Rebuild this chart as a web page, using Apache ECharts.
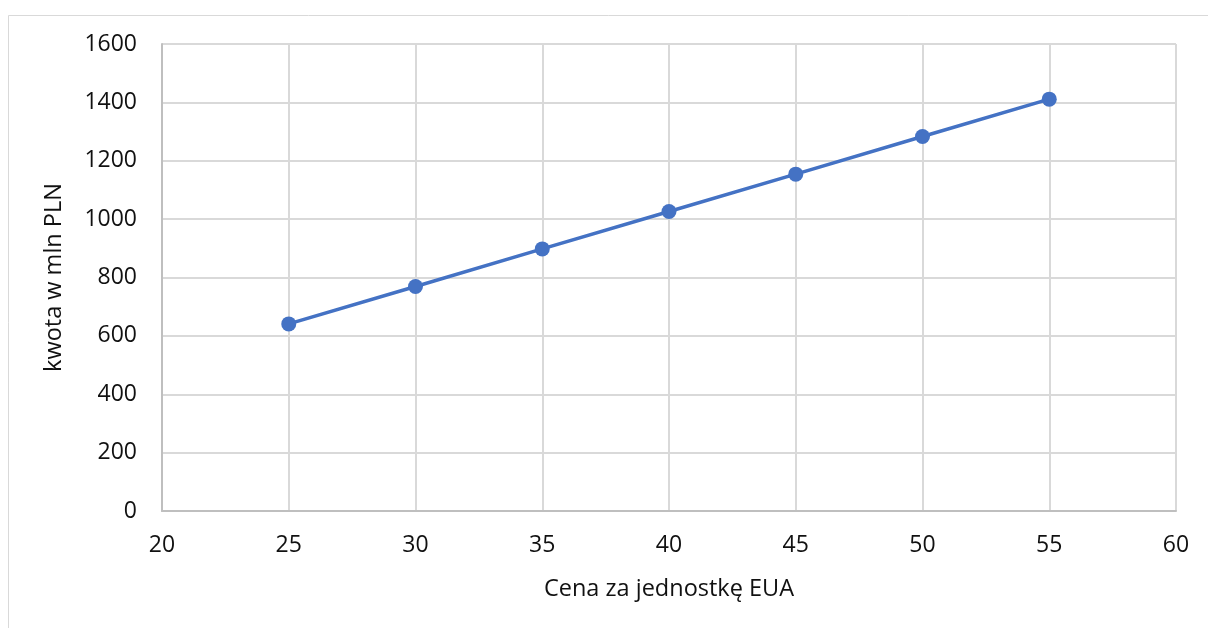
<!DOCTYPE html>
<html>
<head>
<meta charset="utf-8">
<script src="https://cdn.jsdelivr.net/npm/echarts@6/dist/echarts.min.js"></script>
<style>
  html, body { margin: 0; padding: 0; background: #ffffff; }
  #chart { width: 1208px; height: 628px; }
</style>
</head>
<body>
<div id="chart"></div>
<script>
// Cena za jednostkę EUA (x) i odpowiadająca kwota w mln PLN (y)
const prices = [25, 30, 35, 40, 45, 50, 55];
const amounts = [641, 769, 898, 1026, 1154, 1283, 1411];

const FONT = '"Open Sans", "Liberation Sans", sans-serif';

const chart = echarts.init(document.getElementById('chart'), null, { renderer: 'canvas' });

chart.setOption({
  backgroundColor: '#ffffff',
  animation: false,
  graphic: [{
    type: 'rect',
    shape: { x: 8.5, y: 15.5, width: 1230, height: 640 },
    style: { fill: 'none', stroke: '#d9d9d9', lineWidth: 1 },
    silent: true
  }],
  grid: { left: 162, right: 32, top: 44, bottom: 117, containLabel: false },
  xAxis: {
    type: 'value',
    min: 20, max: 60, interval: 5,
    name: 'Cena za jednostkę EUA',
    nameLocation: 'middle',
    nameGap: 66,
    nameTextStyle: { fontFamily: FONT, fontSize: 23.5, color: '#111' },
    axisLine: { show: true, lineStyle: { color: '#bfbfbf', width: 2 } },
    axisTick: { show: false },
    axisLabel: { fontFamily: FONT, fontSize: 23, color: '#111', margin: 23 },
    splitLine: { show: true, lineStyle: { color: '#d9d9d9', width: 2 } }
  },
  yAxis: {
    type: 'value',
    min: 0, max: 1600, interval: 200,
    name: 'kwota w mln PLN',
    nameLocation: 'middle',
    nameGap: 96,
    nameRotate: 90,
    nameTextStyle: { fontFamily: FONT, fontSize: 23.5, color: '#111' },
    axisLine: { show: true, lineStyle: { color: '#bfbfbf', width: 2 } },
    axisTick: { show: false },
    axisLabel: {
      fontFamily: FONT, fontSize: 23, color: '#111', margin: 25,
      formatter: (v) => String(v)
    },
    splitLine: { show: true, lineStyle: { color: '#d9d9d9', width: 2 } }
  },
  series: [{
    type: 'line',
    data: prices.map((p, i) => [p, amounts[i]]),
    symbol: 'circle',
    symbolSize: 15,
    lineStyle: { color: '#4472c4', width: 3.5 },
    itemStyle: { color: '#4472c4' }
  }]
});
</script>
</body>
</html>
